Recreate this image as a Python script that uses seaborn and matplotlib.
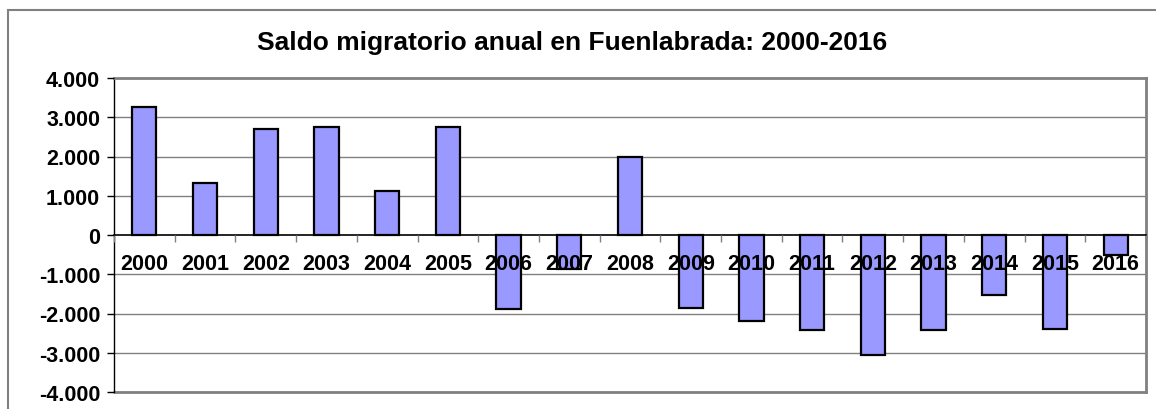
import matplotlib
matplotlib.use("Agg")
import matplotlib.pyplot as plt
import matplotlib.patches as mpatches
import seaborn as sns
import pandas as pd
import numpy as np

# data
years = [str(y) for y in range(2000, 2017)]
saldo = [3260, 1330, 2690, 2740, 1120, 2745, -1890, -870, 2000,
         -1860, -2200, -2430, -3045, -2420, -1540, -2400, -520]
y_ticks = [-4000, -3000, -2000, -1000, 0, 1000, 2000, 3000, 4000]
title = "Saldo migratorio anual en Fuenlabrada: 2000-2016"

sns.set_style("white")
plt.rcParams["font.family"] = ["Liberation Sans", "DejaVu Sans"]
plt.rcParams["font.weight"] = "bold"
plt.rcParams["text.color"] = "black"

W, H = 1156, 410
fig = plt.figure(figsize=(W / 100, H / 100), dpi=100)
fig.patch.set_facecolor("white")

left, right, top, bottom = 114, 1146, 79, 393
ax = fig.add_axes([left / W, 1 - bottom / H, (right - left) / W, (bottom - top) / H])

df = pd.DataFrame({"year": years, "saldo": saldo})
sns.barplot(data=df, x="year", y="saldo", color="#9999FF", saturation=1,
            edgecolor="black", linewidth=1.6, width=0.4, ax=ax, zorder=1)

ax.set_axisbelow(False)  # year labels drawn over the bars
ax.set_xlim(-0.5, len(years) - 0.5)
ax.set_ylim(-4000, 4000)
ax.set_xlabel("")
ax.set_ylabel("")

# horizontal grid behind the bars
for v in y_ticks:
    if v not in (0, -4000, 4000):
        ax.axhline(v, color="#808080", lw=1, zorder=0)

# plot area border
ax.spines["top"].set_color("#808080")
ax.spines["top"].set_linewidth(2)
ax.spines["right"].set_color("#808080")
ax.spines["right"].set_linewidth(2)
ax.spines["left"].set_color("black")
ax.spines["left"].set_linewidth(1)
ax.axhline(-4000, color="#808080", lw=2, clip_on=False, zorder=0)

# category axis sits on zero
ax.spines["bottom"].set_position(("data", 0))
ax.spines["bottom"].set_color("black")
ax.spines["bottom"].set_linewidth(1.2)

ax.set_yticks(y_ticks)
ax.set_yticklabels([f"{v:,}".replace(",", ".") for v in y_ticks],
                   fontsize=15.5, fontweight="bold")
ax.tick_params(axis="y", which="major", direction="out", length=5,
               width=1, color="black", labelcolor="black", pad=5, left=True)

ax.set_xticks(range(len(years)))
ax.set_xticklabels(years, fontsize=15.5, fontweight="bold")
ax.tick_params(axis="x", which="major", length=0, pad=13, bottom=True,
               labelcolor="black")
ax.set_xticks(np.arange(-0.5, len(years), 1), minor=True)
ax.tick_params(axis="x", which="minor", direction="out", length=5,
               width=1, color="#808080", bottom=True)

# outer chart frame (cut off at right and bottom)
fig.patches.append(mpatches.Rectangle((8 / W, -0.2), 1.5, (1 - 11 / H) + 0.2,
                                      transform=fig.transFigure, fill=False,
                                      edgecolor="#808080", lw=1.5))

fig.text(0.495, 1 - 43 / H, title, ha="center", va="center",
         fontsize=19, fontweight="bold", color="black")

fig.savefig("out.png", dpi=100)
